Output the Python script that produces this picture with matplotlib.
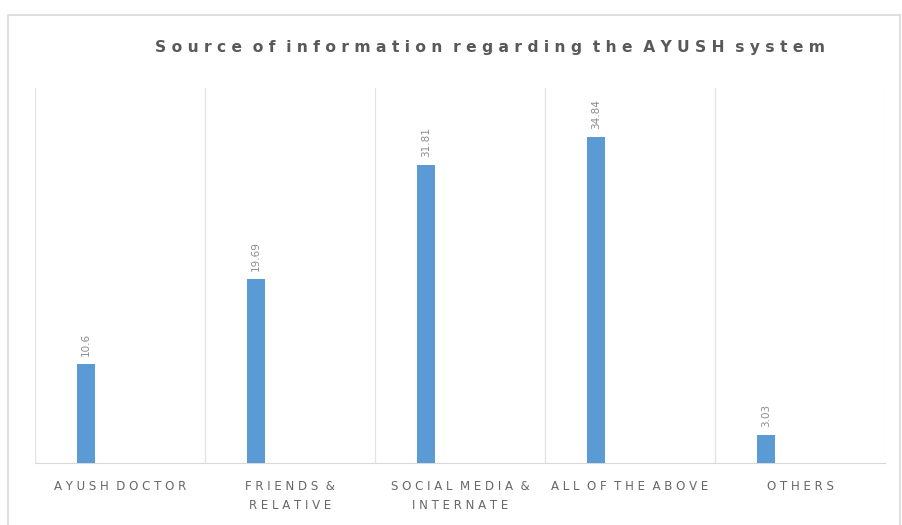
import matplotlib.pyplot as plt
from matplotlib.patches import Rectangle
import numpy as np

categories = ['A Y U S H  D O C T O R', 'F R I E N D S  &\nR E L A T I V E',
              'S O C I A L  M E D I A  &\nI N T E R N A T E',
              'A L L  O F  T H E  A B O V E', 'O T H E R S']
values = [10.6, 19.69, 31.81, 34.84, 3.03]
value_labels = ['10.6', '19.69', '31.81', '34.84', '3.03']

fig = plt.figure(figsize=(9.03, 5.25), dpi=100)
ax = fig.add_axes([0.0388, 0.118, 0.9412, 0.714])

# outer chart frame
fig.patches.append(Rectangle((8 / 903, -0.01), 892 / 903, 1 - 15 / 525 + 0.01,
                             transform=fig.transFigure, fill=False,
                             edgecolor='#d9d9d9', linewidth=1.2))

x = np.arange(len(categories))
ax.bar(x - 0.2, values, width=0.105, color='#5b9bd5', zorder=3)

for xi, v, lab in zip(x, values, value_labels):
    ax.text(xi - 0.2, v + 0.8, lab, rotation=90, ha='center', va='bottom',
            fontsize=7.5, color='#8c8c8c')

ax.set_xlim(-0.5, len(categories) - 0.5)
ax.set_ylim(0, 40)

# vertical gridlines at category boundaries
for b in np.arange(-0.5, len(categories), 1.0):
    ax.axvline(b, color='#e3e3e3', linewidth=0.9, zorder=1)

for s in ['left', 'right', 'top']:
    ax.spines[s].set_visible(False)
ax.spines['bottom'].set_color('#d9d9d9')
ax.set_yticks([])
ax.set_xticks(x)
ax.set_xticklabels(categories, fontsize=8.5, color='#666666', linespacing=1.6)
ax.tick_params(axis='x', length=0, pad=12)

fig.text(0.543, 0.91, 'S o u r c e  o f  i n f o r m a t i o n  r e g a r d i n g  t h e  A Y U S H  s y s t e m',
         ha='center', va='center', fontsize=11.2, fontweight='bold', color='#595959')

fig.savefig('out.png', dpi=100)
